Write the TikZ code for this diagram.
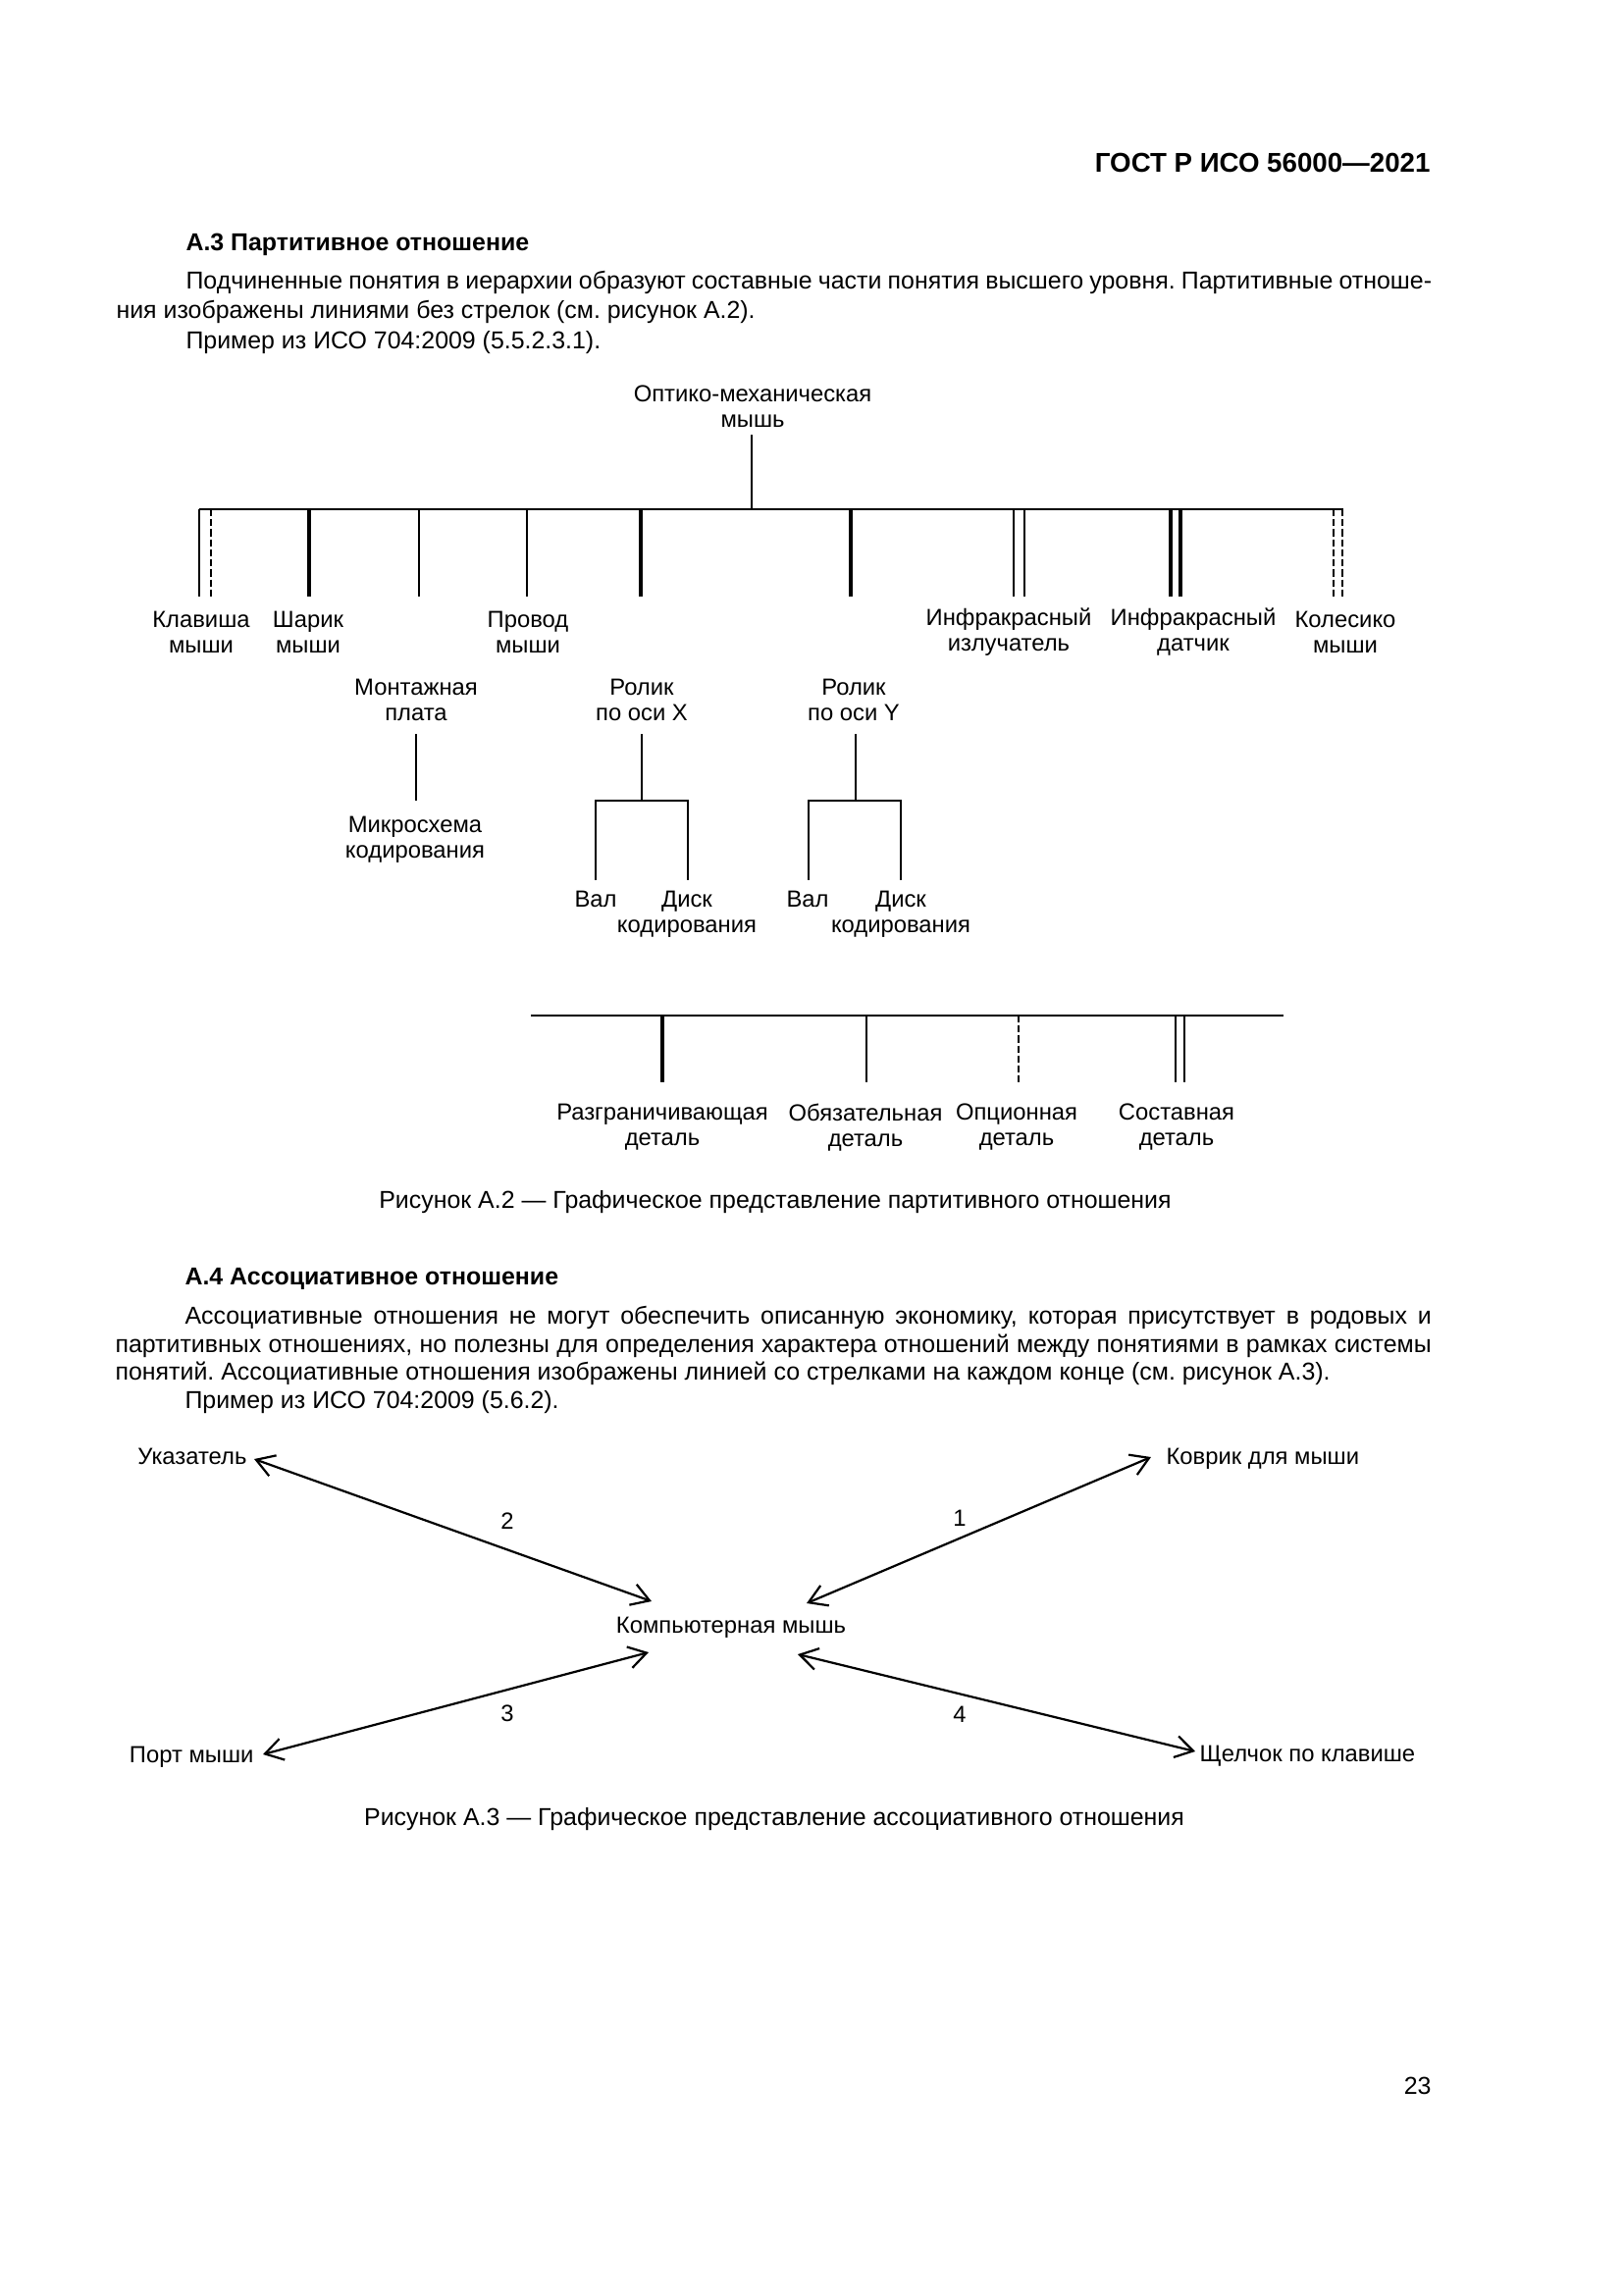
\documentclass[tikz,border=0pt]{standalone}
\usepackage{fontspec}
\setmainfont{Liberation Sans}
\usetikzlibrary{arrows.meta}
\frenchspacing
\begin{document}
\begin{tikzpicture}[x=0.126965mm,y=-0.126965mm,
  lbl/.style={inner sep=0pt, align=center, font=\fontsize{8.6}{9.4}\selectfont},
  txt/.style={inner sep=0pt, anchor=mid west, font=\fontsize{9}{10.8}\selectfont},
  sect/.style={inner sep=0pt, anchor=mid west, font=\fontsize{9}{10.8}\selectfont\bfseries},
  capt/.style={inner sep=0pt, font=\fontsize{9}{10.8}\selectfont},
  partline/.style={line width=0.6pt},
  boldline/.style={line width=1.5pt},
  dashline/.style={line width=0.6pt, dash pattern=on 2.6pt off 1.1pt},
  assoc/.style={line width=0.8pt, {Straight Barb[length=6.5pt,width=8pt]}-{Straight Barb[length=6.5pt,width=8pt]}}]
\useasboundingbox (0,0) rectangle (1654,2339);
\fill[white] (0,0) rectangle (1654,2339);

% header
\node[inner sep=0pt, anchor=mid east, font=\fontsize{10}{12}\selectfont\bfseries] (hdr) at (1458,168) {ГОСТ Р ИСО 56000—2021};

% A.3 text
\node[sect] (h3) at (189,248) {А.3 Партитивное отношение};
\node[txt] (p1) at (189,287) {\makebox[458.6pt][s]{Подчиненные понятия в иерархии образуют составные части понятия высшего уровня. Партитивные отноше-}};
\node[txt] (p2) at (118,317) {ния изображены линиями без стрелок (см. рисунок А.2).};
\node[txt] (p3) at (189,348) {Пример из ИСО 704:2009 (5.5.2.3.1).};

% Figure A.2 hierarchy
\node[lbl] (root) at (767,414) {Оптико-механическая\\мышь};
\coordinate (rootb) at (766,443);
\coordinate (barL) at (203,519);
\coordinate (barR) at (1369,519);
\draw[partline] (rootb) -- (rootb |- barL);
\draw[partline] (barL) -- (barR);

\draw[partline] (203,519) -- (203,608);
\draw[dashline] (215,519) -- (215,608);
\draw[boldline] (315,519) -- (315,608);
\draw[partline] (427,519) -- (427,608);
\draw[partline] (537,519) -- (537,608);
\draw[boldline] (653,519) -- (653,608);
\draw[boldline] (867,519) -- (867,608);
\draw[partline] (1033,519) -- (1033,608);
\draw[partline] (1044,519) -- (1044,608);
\draw[boldline] (1193,519) -- (1193,608);
\draw[boldline] (1203,519) -- (1203,608);
\draw[dashline] (1359,519) -- (1359,608);
\draw[dashline] (1368,519) -- (1368,608);

\node[lbl] (klav) at (205,644) {Клавиша\\мыши};
\node[lbl] (shar) at (314,644) {Шарик\\мыши};
\node[lbl] (prov) at (538,644) {Провод\\мыши};
\node[lbl] (irizl) at (1028,644) {Инфракрасный\\излучатель};
\node[lbl] (irdat) at (1216,644) {Инфракрасный\\датчик};
\node[lbl] (kol) at (1371,644) {Колесико\\мыши};

\node[lbl] (mont) at (424,713) {Монтажная\\плата};
\node[lbl] (rolx) at (654,713) {Ролик\\по оси X};
\node[lbl] (roly) at (870,713) {Ролик\\по оси Y};

\draw[partline] (424,748) -- (424,816);
\node[lbl] (mikro) at (423,856) {Микросхема\\кодирования};

\draw[partline] (654,748) -- (654,816);
\draw[partline] (607,897) -- (607,816) -- (701,816) -- (701,897);
\node[lbl] (valx) at (607,932) {Вал\\\vphantom{кодирования}};
\node[lbl] (diskx) at (700,932) {Диск\\кодирования};

\draw[partline] (872,748) -- (872,816);
\draw[partline] (824,897) -- (824,816) -- (918,816) -- (918,897);
\node[lbl] (valy) at (823,932) {Вал\\\vphantom{кодирования}};
\node[lbl] (disky) at (918,932) {Диск\\кодирования};

% legend
\draw[partline] (541,1035) -- (1308,1035);
\draw[boldline] (675,1035) -- (675,1103);
\draw[partline] (883,1035) -- (883,1103);
\draw[dashline] (1038,1035) -- (1038,1103);
\draw[partline] (1198,1035) -- (1198,1103);
\draw[partline] (1207,1035) -- (1207,1103);
\node[lbl] (razgr) at (675,1149) {Разграничивающая\\деталь};
\node[lbl] (obyaz) at (882,1149) {Обязательная\\деталь};
\node[lbl] (opc) at (1036,1149) {Опционная\\деталь};
\node[lbl] (sost) at (1199,1149) {Составная\\деталь};

\node[capt] (cap2) at (790,1225) {Рисунок А.2 — Графическое представление партитивного отношения};

% A.4 text
\node[sect] (h4) at (188,1302) {А.4 Ассоциативное отношение};
\node[txt] (q1) at (188,1342) {\makebox[458.9pt][s]{Ассоциативные отношения не могут обеспечить описанную экономику, которая присутствует в родовых и}};
\node[txt] (q2) at (117,1371) {\makebox[484.5pt][s]{партитивных отношениях, но полезны для определения характера отношений между понятиями в рамках системы}};
\node[txt] (q3) at (117,1399) {понятий. Ассоциативные отношения изображены линией со стрелками на каждом конце (см. рисунок А.3).};
\node[txt] (q4) at (188,1428) {Пример из ИСО 704:2009 (5.6.2).};

% Figure A.3
\node[lbl, anchor=mid east] (ukaz) at (252,1485) {Указатель};
\node[lbl, anchor=mid west] (kovr) at (1188,1485) {Коврик для мыши};
\node[lbl] (comp) at (745,1659) {Компьютерная мышь};
\node[lbl, anchor=mid east] (port) at (259,1789) {Порт мыши};
\node[lbl, anchor=mid west] (shch) at (1222,1788) {Щелчок по клавише};

\coordinate (t2a) at (259,1487);
\coordinate (t2b) at (664,1632);
\coordinate (t1a) at (822,1634);
\coordinate (t1b) at (1173,1485);
\coordinate (t3a) at (661,1684);
\coordinate (t3b) at (268,1788);
\coordinate (t4a) at (813,1686);
\coordinate (t4b) at (1218,1785);
\draw[assoc] (t2a) -- (t2b);
\draw[assoc] (t1a) -- (t1b);
\draw[assoc] (t3a) -- (t3b);
\draw[assoc] (t4a) -- (t4b);

\node[lbl] (n1) at (978,1547) {1};
\node[lbl] (n2) at (517,1550) {2};
\node[lbl] (n3) at (517,1746) {3};
\node[lbl] (n4) at (978,1747) {4};

\node[capt] (cap3) at (789,1854) {Рисунок А.3 — Графическое представление ассоциативного отношения};

\node[inner sep=0pt, anchor=mid east, font=\fontsize{9}{10.8}\selectfont] (pg) at (1459,2127) {23};
\end{tikzpicture}
\end{document}
